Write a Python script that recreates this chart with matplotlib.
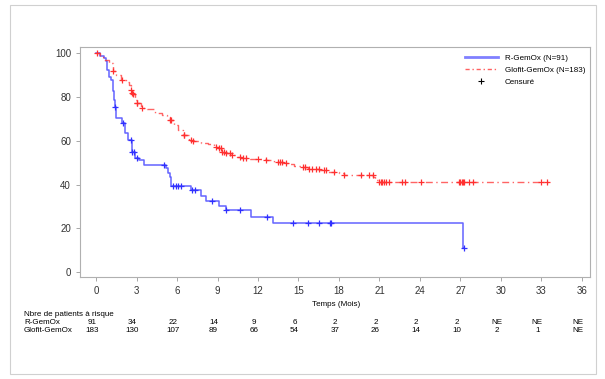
import numpy as np
import matplotlib
matplotlib.use("Agg")
import matplotlib.pyplot as plt
from matplotlib.lines import Line2D
from matplotlib.patches import Rectangle
import matplotlib.transforms as mtransforms

plt.rcParams['font.family'] = ['Liberation Sans', 'DejaVu Sans']

# ---- data ----
r_times = [0, 0.3, 0.6, 0.71, 0.8, 0.94, 1.08, 1.22, 1.36, 1.42, 1.5, 1.93, 2.13, 2.36, 2.64, 2.92,
           3.2, 3.55, 5.2, 5.34, 5.48, 5.56, 7.04, 7.75, 8.12, 9.1, 9.6, 11.5, 13.1, 27.2]
r_surv = [100, 98.9, 97.8, 96.7, 92.4, 89.0, 87.8, 83.0, 78.7, 75.6, 70.6, 68.0, 63.5, 60.4, 55.0, 52.0,
          51.3, 49.2, 47.5, 45.5, 43.7, 39.4, 37.6, 34.7, 32.6, 30.3, 28.2, 25.3, 22.4, 11.2]
r_end = 27.3
r_cens = [1.43, 2.0, 2.56, 2.7, 2.78, 3.0, 5.05, 5.71, 5.9, 6.05, 6.27, 7.1, 7.3, 8.6, 9.65, 10.7,
          12.66, 14.6, 15.7, 16.5, 17.3, 17.4, 27.3]

g_times = [0, 0.31, 0.6, 0.94, 1.28, 1.5, 1.85, 2.2, 2.41, 2.58, 2.65, 2.72, 2.87, 3.0, 3.35, 3.78,
           4.35, 4.9, 5.25, 5.48, 5.76, 6.05, 6.47, 6.9, 7.18, 7.75, 8.32, 8.75, 9.03, 9.3, 9.6, 10.0,
           10.45, 10.73, 11.44, 12.0, 12.58, 13.15, 13.4, 13.85, 14.28, 14.7, 15.27, 15.7, 16.55,
           16.83, 17.06, 17.97, 18.4, 20.55, 20.67, 20.95]
g_surv = [100, 98.5, 97.0, 95.4, 91.9, 90.1, 87.8, 87.0, 85.5, 83.3, 82.0, 81.3, 78.7, 77.2, 74.9, 74.4,
          72.9, 71.8, 71.1, 69.6, 67.3, 65.0, 62.7, 60.4, 60.0, 59.2, 58.6, 57.4, 56.6, 55.1, 54.3, 53.6,
          52.8, 52.1, 51.9, 51.6, 51.3, 50.5, 50.2, 49.8, 49.3, 48.7, 47.9, 47.3, 46.9,
          46.7, 45.7, 45.5, 44.6, 43.4, 42.2, 41.4]
g_end = 33.5
g_cens = [0.05, 1.28, 1.9, 2.62, 2.68, 2.75, 3.0, 3.05, 3.4, 5.5, 5.55, 6.5, 6.55, 7.0, 7.2, 8.9, 9.1,
          9.25, 9.35, 9.45, 9.6, 9.9, 10.1, 10.7, 10.9, 11.1, 12.0, 12.6, 13.5, 13.6, 13.8, 14.1, 15.3,
          15.5, 15.8, 16.0, 16.3, 16.5, 16.9, 17.05, 17.6, 18.4, 19.6, 20.2, 20.5, 20.95, 21.1, 21.2,
          21.3, 21.5, 21.7, 22.7, 22.9, 24.1, 26.9, 27.0, 27.1, 27.2, 27.3, 27.6, 27.9, 33.0, 33.4]

x_ticks = list(range(0, 37, 3))
y_ticks = [0, 20, 40, 60, 80, 100]
risk_r = ['91', '34', '22', '14', '9', '6', '2', '2', '2', '2', 'NE', 'NE', 'NE']
risk_g = ['183', '130', '107', '89', '66', '54', '37', '26', '14', '10', '2', '1', 'NE']
label_r = 'R-GemOx (N=91)'
label_g = 'Glofit-GemOx (N=183)'

# ---- figure ----
fig = plt.figure(figsize=(6.05, 3.79), dpi=100)
fig.patches.append(Rectangle((10/605, 1-374/379), 586/605, 369/379, transform=fig.transFigure,
                             fill=False, edgecolor='#d0d0d0', linewidth=0.8))
ax = fig.add_axes([80/605, 1-277/379, 510/605, 230/379])

def step_val(times, surv, t):
    i = np.searchsorted(times, t, side='right') - 1
    return surv[max(i, 0)]

blue = '#3030ff'
red = '#ff3030'

rt = list(r_times) + [r_end]
rs = list(r_surv) + [r_surv[-1]]
ax.step(rt, rs, where='post', color=blue, lw=1.1, alpha=0.75)
ax.plot(r_cens, [step_val(r_times, r_surv, t) for t in r_cens], '+', color=blue, ms=4, mew=0.9)

gt = list(g_times) + [g_end]
gs = list(g_surv) + [g_surv[-1]]
ax.step(gt, gs, where='post', color=red, lw=1.0, alpha=0.75, linestyle=(0, (5, 2.5, 1, 2.5)))
ax.plot(g_cens, [step_val(g_times, g_surv, t) for t in g_cens], '+', color=red, ms=4, mew=0.9)

ax.set_xlim(-1.19, 36.6)
ax.set_ylim(-2.2, 102.9)
ax.set_xticks(x_ticks)
ax.set_yticks(y_ticks)
ax.tick_params(axis='both', labelsize=7, colors='#333333', length=3, width=0.6, color='#999999')
for sp in ax.spines.values():
    sp.set_color('#b0b0b0')
    sp.set_linewidth(0.8)

handles = [Line2D([], [], color='#8080ff', lw=2),
           Line2D([], [], color='#ff6060', lw=1, linestyle=(0, (3, 2, 1, 2))),
           Line2D([], [], color='black', marker='+', linestyle='none', ms=5, mew=0.8)]
ax.legend(handles, [label_r, label_g, 'Censuré'], loc='upper right', frameon=False, fontsize=5.8,
          handlelength=4.1, bbox_to_anchor=(1.005, 1.0), labelspacing=0.55, handletextpad=0.9)

fs = 5.8
fig.text(336/605, 1-305/379, 'Temps (Mois)', ha='center', va='center', fontsize=fs)
fig.text(24/605, 1-314/379, 'Nbre de patients à risque', ha='left', va='center', fontsize=fs)
fig.text(24/605, 1-323/379, 'R-GemOx', ha='left', va='center', fontsize=fs)
fig.text(24/605, 1-331/379, 'Glofit-GemOx', ha='left', va='center', fontsize=fs)

trans = mtransforms.blended_transform_factory(ax.transData, fig.transFigure)
for x, a, b in zip(x_ticks, risk_r, risk_g):
    ax.text(x - 0.3, 1-323/379, a, transform=trans, ha='center', va='center', fontsize=fs)
    ax.text(x - 0.3, 1-331/379, b, transform=trans, ha='center', va='center', fontsize=fs)

fig.savefig('out.png', dpi=100)
